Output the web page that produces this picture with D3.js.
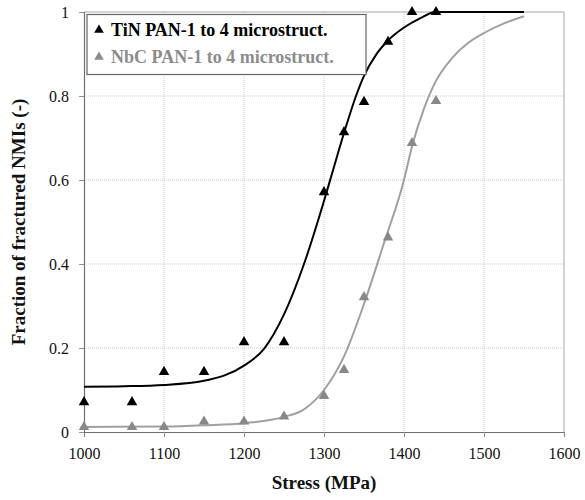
<!DOCTYPE html>
<html>
<head>
<meta charset="utf-8">
<script src="https://cdn.jsdelivr.net/npm/d3@7"></script>
<style>
  body { margin: 0; background: #fff; }
  #chart { display: block; font-family: 'Liberation Serif', serif; }
</style>
</head>
<body>
<svg id="chart" width="585" height="500"></svg>
<script>
// ---- Data ----
const tinStress   = [1000, 1060, 1100, 1150, 1200, 1250, 1300, 1325, 1350, 1380, 1410, 1440];
const tinFraction = [0.071, 0.071, 0.143, 0.143, 0.214, 0.214, 0.571, 0.714, 0.786, 0.929, 1.0, 1.0];

const nbcStress   = [1000, 1060, 1100, 1150, 1200, 1250, 1300, 1325, 1350, 1380, 1410, 1440];
const nbcFraction = [0.012, 0.012, 0.012, 0.025, 0.025, 0.037, 0.086, 0.148, 0.321, 0.463, 0.688, 0.788];

// fitted curves
const tinCurveX = [1000, 1050, 1100, 1150, 1200, 1225, 1250, 1275, 1300, 1310, 1325, 1340, 1350, 1365, 1380, 1400, 1420, 1440, 1500, 1550];
const tinCurveY = [0.108, 0.109, 0.112, 0.122, 0.158, 0.198, 0.280, 0.400, 0.550, 0.615, 0.712, 0.800, 0.848, 0.898, 0.932, 0.963, 0.985, 1.0, 1.0, 1.0];

const nbcCurveX = [1000, 1100, 1150, 1200, 1250, 1275, 1300, 1325, 1350, 1375, 1400, 1410, 1425, 1440, 1460, 1480, 1500, 1525, 1550];
const nbcCurveY = [0.012, 0.013, 0.016, 0.021, 0.036, 0.054, 0.100, 0.180, 0.305, 0.450, 0.600, 0.680, 0.770, 0.836, 0.890, 0.926, 0.950, 0.973, 0.990];

const xTicks = [1000, 1100, 1200, 1300, 1400, 1500, 1600];
const yTicks = [0, 0.2, 0.4, 0.6, 0.8, 1];
const yTickLabels = ["0", "0.2", "0.4", "0.6", "0.8", "1"];

const legendLabels = ["TiN PAN-1 to 4 microstruct.", "NbC PAN-1 to 4 microstruct."];
const xTitle = "Stress (MPa)";
const yTitle = "Fraction of fractured NMIs (-)";

const TXT = "font-family:'Liberation Serif', serif;";

const svg = d3.select("#chart");
const L = 84, R = 564, T = 12, B = 432;

const x = d3.scaleLinear().domain([1000, 1600]).range([L, R]);
const y = d3.scaleLinear().domain([0, 1]).range([B, T]);

// gridlines
const grid = svg.append("g");
grid.selectAll("line.vx").data(xTicks.slice(1, -1)).enter().append("line")
  .attr("x1", d => x(d)).attr("x2", d => x(d)).attr("y1", T).attr("y2", B)
  .attr("stroke", "#c8c8c8").attr("stroke-width", 1).attr("stroke-dasharray", "1,1");
grid.selectAll("line.hy").data(yTicks.slice(1, -1)).enter().append("line")
  .attr("x1", L).attr("x2", R).attr("y1", d => y(d)).attr("y2", d => y(d))
  .attr("stroke", "#c8c8c8").attr("stroke-width", 1).attr("stroke-dasharray", "1,1");

// frame (top, right)
svg.append("line").attr("x1", L).attr("x2", R).attr("y1", T).attr("y2", T).attr("stroke", "#a8a8a8");
svg.append("line").attr("x1", R).attr("x2", R).attr("y1", T).attr("y2", B).attr("stroke", "#a8a8a8");

// axes
const xAxis = d3.axisBottom(x).tickValues(xTicks).tickSize(5).tickFormat(d3.format("d"));
const yAxis = d3.axisLeft(y).tickValues(yTicks).tickSize(5).tickFormat((d, i) => yTickLabels[i]);

const gx = svg.append("g").attr("transform", `translate(0,${B})`).call(xAxis);
const gy = svg.append("g").attr("transform", `translate(${L},0)`).call(yAxis);
[gx, gy].forEach(g => {
  g.attr("font-family", "Liberation Serif").attr("font-size", 16);
  g.select(".domain").attr("stroke", "#707070").attr("stroke-width", 1.2);
  g.selectAll(".tick line").attr("stroke", "#909090");
  g.selectAll(".tick text").attr("fill", "#111").attr("style", TXT + "font-size:16px");
});
gx.selectAll(".tick text").attr("dy", "0.71em").attr("y", 16);
gy.selectAll(".tick text").attr("x", -15);

// curves
const line = d3.line().x(d => x(d[0])).y(d => y(d[1])).curve(d3.curveMonotoneX);
svg.append("path").datum(d3.zip(nbcCurveX, nbcCurveY)).attr("d", line)
  .attr("fill", "none").attr("stroke", "#a0a0a0").attr("stroke-width", 2);
svg.append("path").datum(d3.zip(tinCurveX, tinCurveY)).attr("d", line)
  .attr("fill", "none").attr("stroke", "#000").attr("stroke-width", 2);

// markers
const tri = d3.symbol().type(d3.symbolTriangle).size(48);
svg.append("g").selectAll("path").data(d3.zip(nbcStress, nbcFraction)).enter().append("path")
  .attr("d", tri).attr("transform", d => `translate(${x(d[0])},${y(d[1])})`)
  .attr("fill", "#888");
svg.append("g").selectAll("path").data(d3.zip(tinStress, tinFraction)).enter().append("path")
  .attr("d", tri).attr("transform", d => `translate(${x(d[0])},${y(d[1])})`)
  .attr("fill", "#000");

// legend
const lg = svg.append("g");
lg.append("rect").attr("x", 87).attr("y", 14.5).attr("width", 279).attr("height", 60)
  .attr("fill", "#fff").attr("stroke", "#666").attr("stroke-width", 1.2);
const legColors = ["#000", "#8c8c8c"];
const legY = [30, 57];
legendLabels.forEach((t, i) => {
  lg.append("path").attr("d", d3.symbol().type(d3.symbolTriangle).size(40)())
    .attr("transform", `translate(99,${legY[i]})`).attr("fill", legColors[i]);
  lg.append("text").attr("x", 111).attr("y", legY[i] + 6).text(t)
    .attr("fill", legColors[i])
    .attr("style", TXT + "font-size:18px;font-weight:bold");
});

// axis titles
svg.append("text").attr("x", (L + R) / 2).attr("y", 489).attr("text-anchor", "middle")
  .attr("style", TXT + "font-size:19px;font-weight:bold").attr("fill", "#111").text(xTitle);
svg.append("text").attr("transform", `translate(25,${(T + B) / 2}) rotate(-90)`)
  .attr("text-anchor", "middle").attr("style", TXT + "font-size:19px;font-weight:bold")
  .attr("fill", "#111").text(yTitle);
</script>
</body>
</html>
